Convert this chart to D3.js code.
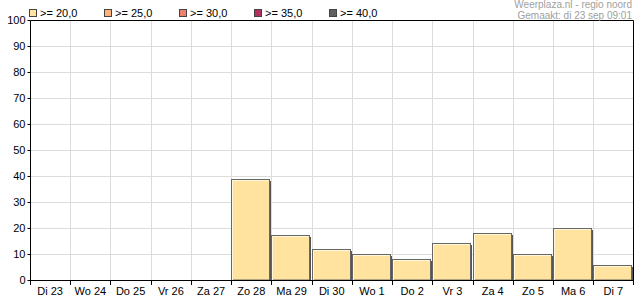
<!DOCTYPE html>
<html>
<head>
<meta charset="utf-8">
<script src="https://cdn.jsdelivr.net/npm/d3@7"></script>
<style>
  body { margin: 0; background: #fff; }
  svg { display: block; font-family: "Liberation Sans", Arial, sans-serif; }
</style>
</head>
<body>
<svg id="chart" width="635" height="300"></svg>
<script>
// data
const days = ["Di 23", "Wo 24", "Do 25", "Vr 26", "Za 27", "Zo 28", "Ma 29", "Di 30",
  "Wo 1", "Do 2", "Vr 3", "Za 4", "Zo 5", "Ma 6", "Di 7"];
const values = [0, 0, 0, 0, 0, 38.5, 17.0, 11.4, 9.5, 7.6, 13.7, 17.6, 9.5, 19.5, 5.5];
const yTicks = [0, 10, 20, 30, 40, 50, 60, 70, 80, 90, 100];
const legendLabels = [">= 20,0", ">= 25,0", ">= 30,0", ">= 35,0", ">= 40,0"];
const legendColors = ["#ffe39e", "#ffb27a", "#ef7f6e", "#b0305e", "#606060"];
const credits = ["Weerplaza.nl - regio noord", "Gemaakt: di 23 sep 09:01"];

const svg = d3.select("#chart");

const plotL = 30, plotR = 633.5, plotT = 20, plotB = 280;

const x = d3.scaleBand().domain(days).range([plotL, plotR]).padding(0);
const y = d3.scaleLinear().domain([0, 100]).range([plotB, plotT]);

// grid
svg.append("g")
  .selectAll("line")
  .data(yTicks.slice(1))
  .join("line")
  .attr("x1", plotL).attr("x2", plotR)
  .attr("y1", d => Math.round(y(d)) + 0.5).attr("y2", d => Math.round(y(d)) + 0.5)
  .attr("stroke", "#dcdcdc");

svg.append("g")
  .selectAll("line")
  .data(days.slice(1))
  .join("line")
  .attr("x1", d => Math.round(x(d)) + 0.5).attr("x2", d => Math.round(x(d)) + 0.5)
  .attr("y1", plotT).attr("y2", plotB)
  .attr("stroke", "#dcdcdc");

// bars
const bars = svg.append("g")
  .selectAll("g")
  .data(days.map((d, i) => ({ day: d, v: values[i] })).filter(d => d.v > 0))
  .join("g");

bars.append("rect")
  .attr("x", d => Math.round(x(d.day)) + 1)
  .attr("y", d => Math.round(y(d.v)))
  .attr("width", d => Math.round(x.bandwidth()) - 3)
  .attr("height", d => plotB - Math.round(y(d.v)))
  .attr("fill", legendColors[0]);

// shadow on right
bars.append("rect")
  .attr("x", d => Math.round(x(d.day)) + Math.round(x.bandwidth()) - 2)
  .attr("y", d => Math.round(y(d.v)) + 1)
  .attr("width", 2)
  .attr("height", d => plotB - Math.round(y(d.v)) - 1)
  .attr("fill", "#555");

// outline
bars.append("rect")
  .attr("x", d => Math.round(x(d.day)) + 0.5)
  .attr("y", d => Math.round(y(d.v)) - 0.5)
  .attr("width", d => Math.round(x.bandwidth()) - 2)
  .attr("height", d => plotB - Math.round(y(d.v)) + 0.5)
  .attr("fill", "none")
  .attr("stroke", "#666");

// inner highlight
bars.append("path")
  .attr("d", d => {
    const x0 = Math.round(x(d.day)) + 1.5;
    const y0 = Math.round(y(d.v)) + 0.5;
    const x1 = Math.round(x(d.day)) + Math.round(x.bandwidth()) - 2.5;
    return `M${x0},${plotB}V${y0}H${x1}`;
  })
  .attr("fill", "none")
  .attr("stroke", "#fff7dc");

// axes
const yAxis = d3.axisLeft(y).tickValues(yTicks).tickSize(3).tickPadding(2);
const gy = svg.append("g").attr("transform", `translate(${plotL + 0.5},0)`).call(yAxis);
gy.select(".domain").remove();
gy.selectAll("text").attr("font-size", 11).attr("fill", "#000").attr("font-family", "Liberation Sans, Arial, sans-serif");
gy.selectAll("line").attr("stroke", "#000");

const xAxis = d3.axisBottom(x).tickSize(0).tickPadding(7);
const gx = svg.append("g").attr("transform", `translate(0,${plotB})`).call(xAxis);
gx.select(".domain").remove();
gx.selectAll("text").attr("font-size", 11).attr("fill", "#000").attr("font-family", "Liberation Sans, Arial, sans-serif");

// x ticks at boundaries
svg.append("g")
  .selectAll("line")
  .data(days.slice(1).concat(["end"]))
  .join("line")
  .attr("x1", d => d === "end" ? plotR : Math.round(x(d)) + 0.5)
  .attr("x2", d => d === "end" ? plotR : Math.round(x(d)) + 0.5)
  .attr("y1", plotB).attr("y2", plotB + 5)
  .attr("stroke", "#000");

// frame
svg.append("path")
  .attr("d", `M${plotL + 0.5},${plotB + 5}V${plotT + 0.5}H${plotR}V${plotB + 0.5}M${plotL},${plotB + 0.5}H${plotR}`)
  .attr("fill", "none")
  .attr("stroke", "#000");

// legend
const lg = svg.append("g")
  .selectAll("g")
  .data(legendLabels)
  .join("g")
  .attr("transform", (d, i) => `translate(${29 + i * 75},0)`);

lg.append("rect")
  .attr("x", 0.5).attr("y", 9.5).attr("width", 7).attr("height", 7)
  .attr("fill", (d, i) => legendColors[i])
  .attr("stroke", "#444");

lg.append("text")
  .attr("x", 11).attr("y", 17)
  .attr("font-size", 11)
  .text(d => d);

// credits
svg.append("g")
  .selectAll("text")
  .data(credits)
  .join("text")
  .attr("x", 632)
  .attr("y", (d, i) => 8 + i * 11)
  .attr("text-anchor", "end")
  .attr("font-size", 10)
  .attr("fill", "#a0a0a0")
  .text(d => d);
</script>
</body>
</html>
